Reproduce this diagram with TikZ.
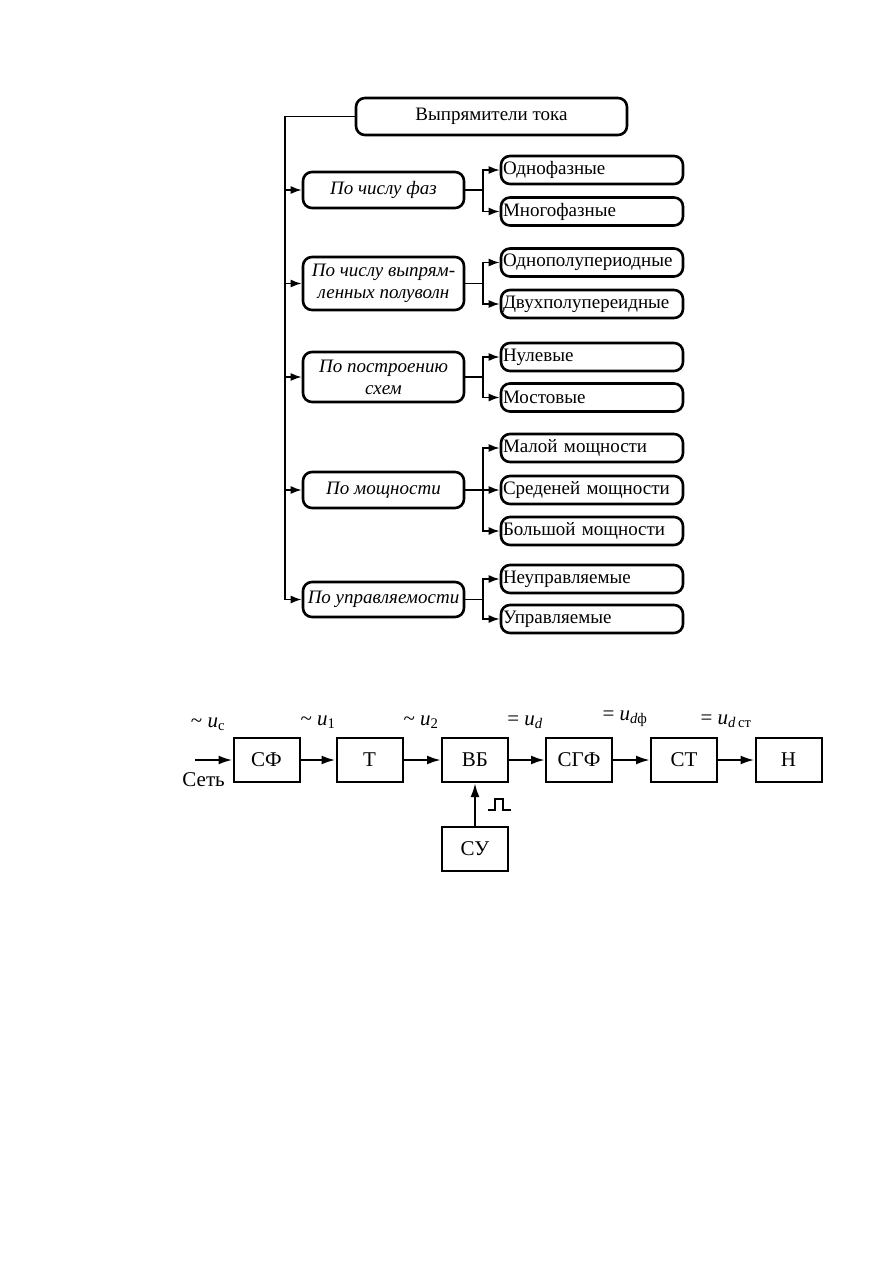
\documentclass[tikz,border=0pt]{standalone}
\usepackage{fontspec}
\setmainfont{Liberation Serif}
\usetikzlibrary{arrows.meta}

\tikzset{
  rbox/.style={draw, line width=2.6pt, rounded corners=9pt, inner sep=0pt},
  catbox/.style={rbox, minimum width=161pt, align=center, font=\fontsize{19}{22}\selectfont\itshape},
  subbox/.style={rbox, minimum height=28pt, text width=178pt, inner xsep=2pt, align=left},
  blk/.style={draw, line width=2pt, minimum width=66pt, minimum height=44pt, inner sep=0pt, font=\fontsize{21}{24}\selectfont},
  tip/.style={-{Latex[length=11pt,width=8pt]}, line width=1.7pt},
  tipb/.style={-{Latex[length=14pt,width=9pt]}, line width=2.4pt},
  ulab/.style={inner sep=0pt, font=\fontsize{21}{24}\selectfont},
}
\newcommand{\uu}[1]{\textit{u}\textsubscript{#1}}

\begin{document}
\begin{tikzpicture}[x=1pt,y=1pt,yscale=-1,font=\fontsize{19}{22}\selectfont]
\useasboundingbox (0,0) rectangle (893,1263);

% classification tree
\node[rbox, minimum width=271pt, minimum height=37pt] (root) at (491.5,116.5) {Выпрямители тока};

\node[catbox, minimum height=36pt] (c1) at (383.5,190) {По числу фаз};
\node[catbox, minimum height=53pt] (c2) at (383.5,283.5) {По числу выпрям-\\ленных полуволн};
\node[catbox, minimum height=50pt] (c3) at (383.5,377) {По построению\\схем};
\node[catbox, minimum height=36pt] (c4) at (383.5,490) {По мощности};
\node[catbox, minimum height=35pt] (c5) at (383.5,599.5) {По управляемости};

\node[subbox] (s11) at (592,170) {Однофазные};
\node[subbox] (s12) at (592,211.5) {Многофазные};
\node[subbox] (s21) at (592,262.5) {Однополупериодные};
\node[subbox] (s22) at (592,304) {Двухполупереидные};
\node[subbox] (s31) at (592,357) {Нулевые};
\node[subbox] (s32) at (592,397.5) {Мостовые};
\node[subbox] (s41) at (592,448) {Малой мощности};
\node[subbox] (s42) at (592,490) {Среденей мощности};
\node[subbox] (s43) at (592,531) {Большой мощности};
\node[subbox] (s51) at (592,579) {Неуправляемые};
\node[subbox] (s52) at (592,619) {Управляемые};

\coordinate (trunk) at (285,116.5);
\draw[line width=1.7pt] (root.west) -- (trunk) -- (trunk |- c5.west);
\foreach \c in {c1,c2,c3,c4,c5}
  \draw[tip] (trunk |- \c.west) -- (\c.west);
\foreach \c/\s in {c1/s11,c1/s12,c2/s21,c2/s22,c3/s31,c3/s32,c4/s41,c4/s42,c4/s43,c5/s51,c5/s52}
  \draw[tip] (\c.east) -- ++(18,0) |- (\s.west);

% block diagram
\node[blk] (sf) at (266.5,760) {СФ};
\node[blk] (t) at (369.5,760) {Т};
\node[blk] (vb) at (475,760) {ВБ};
\node[blk] (sgf) at (579,760) {СГФ};
\node[blk] (st) at (684,760) {СТ};
\node[blk] (n) at (788.5,760) {Н};
\node[blk] (su) at (475,848.5) {СУ};

\coordinate (in) at (195,760);
\draw[tipb] (in) -- (sf);
\draw[tipb] (sf) -- (t);
\draw[tipb] (t) -- (vb);
\draw[tipb] (vb) -- (sgf);
\draw[tipb] (sgf) -- (st);
\draw[tipb] (st) -- (n);
\draw[tipb] (su) -- (vb);

% pulse
\draw[line width=1.8pt] (488,810) -- (495,810) -- (495,799) -- (503,799) -- (503,810) -- (511,810);

% Text Node
\node[ulab, anchor=north east] (set) at (225,772) {Сеть};
\node[ulab] (l0) at (208,724) {\textasciitilde\ \uu{с}};
\node[ulab] (l1) at (318,722) {\textasciitilde\ \uu{1}};
\node[ulab] (l2) at (421,722) {\textasciitilde\ \uu{2}};
\node[ulab] (l3) at (525,722) {= \uu{\textit{d}}};
\node[ulab] (l4) at (625,719) {= \uu{\textit{d}ф}};
\node[ulab] (l5) at (726,721) {= \uu{\textit{d}\,ст}};

\end{tikzpicture}
\end{document}
